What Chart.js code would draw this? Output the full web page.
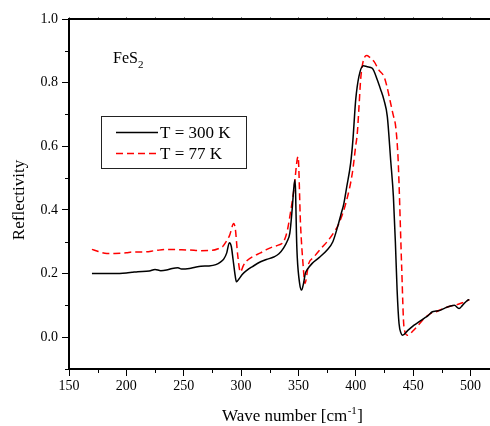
<!DOCTYPE html>
<html>
<head>
<meta charset="utf-8">
<script src="https://cdn.jsdelivr.net/npm/chart.js@4/dist/chart.umd.min.js"></script>
<style>
  html, body { margin: 0; padding: 0; background: #fff; }
</style>
</head>
<body>
<canvas id="chart" width="490" height="426"></canvas>
<script>
// Wave number axis (cm^-1)
const X_TICKS = [150, 200, 250, 300, 350, 400, 450, 500];
const X_MINOR = [175, 225, 275, 325, 375, 425, 475];
const Y_TICKS = [0.0, 0.2, 0.4, 0.6, 0.8, 1.0];
const Y_MINOR = [-0.1, 0.1, 0.3, 0.5, 0.7, 0.9];

// T = 300 K
const WN_300 = [170, 180, 190, 200, 205, 210, 220, 225, 230, 235, 240, 245, 248, 255, 260, 265, 272, 278, 282, 285, 287.5,
  289.8, 291.5, 293, 295, 296, 298, 301, 305, 310, 317, 322, 328.5, 333, 337, 340, 342.5, 344.5, 346, 346.9, 347.5, 348.3,
  349, 351, 352.7, 354.5, 356, 357.6, 362, 368, 375, 380, 384, 387, 389.6, 392, 395.5, 397.5, 399.9, 402.7, 406.6, 410,
  414.4, 418.8, 421.5, 424.6, 427.5, 430.4, 432.8, 434.5, 436, 437.7, 439.5, 440.7, 445, 450.8, 455, 459.5, 463, 466.8,
  470, 474, 478, 482.8, 486, 490, 493, 497.4, 499];
const R_300 = [0.200, 0.200, 0.200, 0.202, 0.204, 0.206, 0.208, 0.213, 0.209, 0.211, 0.216, 0.218, 0.214, 0.216, 0.220, 0.223, 0.224, 0.228, 0.236, 0.246, 0.265,
  0.297, 0.285, 0.245, 0.190, 0.174, 0.182, 0.197, 0.210, 0.222, 0.237, 0.244, 0.252, 0.262, 0.280, 0.300, 0.327, 0.400, 0.470, 0.494, 0.460, 0.320,
  0.250, 0.170, 0.148, 0.170, 0.200, 0.212, 0.232, 0.250, 0.274, 0.300, 0.345, 0.385, 0.420, 0.470, 0.546, 0.620, 0.745, 0.819, 0.853, 0.850,
  0.845, 0.808, 0.780, 0.745, 0.693, 0.557, 0.441, 0.300, 0.150, 0.043, 0.012, 0.006, 0.020, 0.038, 0.048, 0.059, 0.068, 0.080,
  0.082, 0.085, 0.092, 0.098, 0.100, 0.090, 0.100, 0.116, 0.118];

// T = 77 K
const WN_77 = [170, 175, 183, 190, 200, 205, 215, 225, 235, 245, 255, 265, 275, 280, 284, 287, 290, 293.6, 295, 297, 299.4,
  302, 305, 311, 317, 322, 328.5, 333, 337, 340, 343, 346, 349.7, 351.8, 354.2, 355.6, 359, 363, 370, 375, 381, 385, 392,
  397, 399.9, 401.3, 402.8, 404.2, 406, 409.5, 412, 416, 420, 424.6, 427, 430.4, 432.5, 434.8, 436.8, 437.7, 440, 442, 445,
  450, 455, 460, 465.4, 470, 475, 480, 485, 488.7, 493, 499];
const R_77 = [0.276, 0.270, 0.263, 0.263, 0.265, 0.268, 0.268, 0.272, 0.276, 0.275, 0.274, 0.272, 0.273, 0.278, 0.285, 0.300, 0.320, 0.357, 0.340, 0.260, 0.205,
  0.225, 0.240, 0.255, 0.265, 0.275, 0.285, 0.290, 0.300, 0.330, 0.390, 0.462, 0.567, 0.357, 0.221, 0.169, 0.232, 0.250, 0.280, 0.300, 0.330, 0.355, 0.430,
  0.516, 0.600, 0.640, 0.724, 0.808, 0.860, 0.885, 0.880, 0.866, 0.840, 0.819, 0.790, 0.735, 0.700, 0.661, 0.567, 0.483, 0.221, 0.032, 0.006,
  0.020, 0.040, 0.060, 0.075, 0.080, 0.088, 0.095, 0.100, 0.103, 0.108, 0.118];

const SERIF = '"Liberation Serif", "Times New Roman", serif';

const toPoints = (xs, ys) => xs.map((x, i) => ({ x, y: ys[i] }));

// Extra drawing: top axis, minor ticks, titles, label and legend box
const decor = {
  id: "decor",
  afterDraw(chart) {
    const { ctx, chartArea: a, scales } = chart;
    const xs = scales.x, ys = scales.y;
    ctx.save();
    ctx.strokeStyle = "#000";

    // top axis line
    ctx.lineWidth = 2;
    ctx.beginPath();
    ctx.moveTo(a.left - 1, a.top);
    ctx.lineTo(a.right, a.top);
    ctx.stroke();

    ctx.lineWidth = 1;
    // minor ticks (outward) on bottom axis
    X_MINOR.forEach(v => {
      const px = Math.round(xs.getPixelForValue(v)) + 0.5;
      ctx.beginPath();
      ctx.moveTo(px, a.bottom);
      ctx.lineTo(px, a.bottom + 4);
      ctx.stroke();
    });
    // tiny ticks on top axis
    ctx.strokeStyle = "#888";
    X_MINOR.concat(X_TICKS).forEach(v => {
      const px = Math.round(xs.getPixelForValue(v)) + 0.5;
      ctx.beginPath();
      ctx.moveTo(px, a.top - 1);
      ctx.lineTo(px, a.top - 2);
      ctx.stroke();
    });
    ctx.strokeStyle = "#000";
    // minor ticks on left axis
    Y_MINOR.forEach(v => {
      const py = Math.round(ys.getPixelForValue(v)) + 0.5;
      ctx.beginPath();
      ctx.moveTo(a.left, py);
      ctx.lineTo(a.left - 4, py);
      ctx.stroke();
    });

    ctx.fillStyle = "#000";
    // x axis title with superscript
    ctx.textBaseline = "alphabetic";
    ctx.font = "17px " + SERIF;
    const t1 = "Wave number [cm", sup = "-1", t2 = "]";
    ctx.font = "17px " + SERIF;
    const w1 = ctx.measureText(t1).width, w3 = ctx.measureText(t2).width;
    ctx.font = "11px " + SERIF;
    const w2 = ctx.measureText(sup).width;
    let tx = 292 - (w1 + w2 + w3) / 2;
    const ty = 421;
    ctx.font = "17px " + SERIF;
    ctx.fillText(t1, tx, ty);
    ctx.font = "11px " + SERIF;
    ctx.fillText(sup, tx + w1 + 0.5, ty - 7);
    ctx.font = "17px " + SERIF;
    ctx.fillText(t2, tx + w1 + w2 + 1, ty);

    // y axis title
    ctx.save();
    ctx.translate(24, 200);
    ctx.rotate(-Math.PI / 2);
    ctx.textAlign = "center";
    ctx.font = "17px " + SERIF;
    ctx.fillText("Reflectivity", 0, 0);
    ctx.restore();

    // FeS2 label
    ctx.font = "16px " + SERIF;
    ctx.fillText("FeS", 113, 63);
    const fw = ctx.measureText("FeS").width;
    ctx.font = "11px " + SERIF;
    ctx.fillText("2", 113 + fw, 68);

    // legend box
    ctx.strokeStyle = "#222";
    ctx.lineWidth = 1;
    ctx.strokeRect(101.5, 116.5, 145, 52);
    ctx.font = "17px " + SERIF;
    ctx.textBaseline = "middle";
    chart.data.datasets.forEach((ds, i) => {
      const ly = 132.5 + i * 21;
      ctx.strokeStyle = ds.borderColor;
      ctx.lineWidth = ds.borderWidth;
      ctx.setLineDash(ds.borderDash || []);
      ctx.beginPath();
      ctx.moveTo(116, ly);
      ctx.lineTo(158, ly);
      ctx.stroke();
      ctx.setLineDash([]);
      ctx.fillStyle = "#000";
      ctx.fillText(ds.label, 160, ly + 1);
    });
    ctx.restore();
  }
};

new Chart(document.getElementById("chart"), {
  type: "scatter",
  data: {
    datasets: [
      {
        label: "T = 300 K",
        data: toPoints(WN_300, R_300),
        showLine: true,
        borderColor: "#000000",
        borderWidth: 1.5,
        pointRadius: 0,
        cubicInterpolationMode: "monotone"
      },
      {
        label: "T = 77 K",
        data: toPoints(WN_77, R_77),
        showLine: true,
        borderColor: "#ff0000",
        borderWidth: 1.5,
        borderDash: [7, 4],
        pointRadius: 0,
        cubicInterpolationMode: "monotone"
      }
    ]
  },
  options: {
    responsive: false,
    animation: false,
    layout: { padding: { top: 19, right: 0, left: 0, bottom: 0 } },
    plugins: { legend: { display: false }, tooltip: { enabled: false } },
    scales: {
      x: {
        type: "linear",
        min: 150,
        max: 517,
        afterBuildTicks: s => { s.ticks = X_TICKS.map(v => ({ value: v })); },
        afterFit: s => { s.height = 57; },
        grid: { drawOnChartArea: false, drawTicks: true, tickLength: 7, tickWidth: 1, tickColor: "#000" },
        border: { display: true, color: "#000", width: 2 },
        ticks: { color: "#000", padding: 2, maxRotation: 0, font: { family: SERIF, size: 14 } }
      },
      y: {
        type: "linear",
        min: -0.1,
        max: 1.0,
        afterBuildTicks: s => { s.ticks = Y_TICKS.map(v => ({ value: v })); },
        afterFit: s => { s.width = 69; },
        grid: { drawOnChartArea: false, drawTicks: true, tickLength: 7, tickWidth: 1, tickColor: "#000" },
        border: { display: true, color: "#000", width: 2 },
        ticks: { color: "#000", padding: 4, font: { family: SERIF, size: 14 }, callback: v => v.toFixed(1) }
      }
    }
  },
  plugins: [decor]
});
</script>
</body>
</html>
